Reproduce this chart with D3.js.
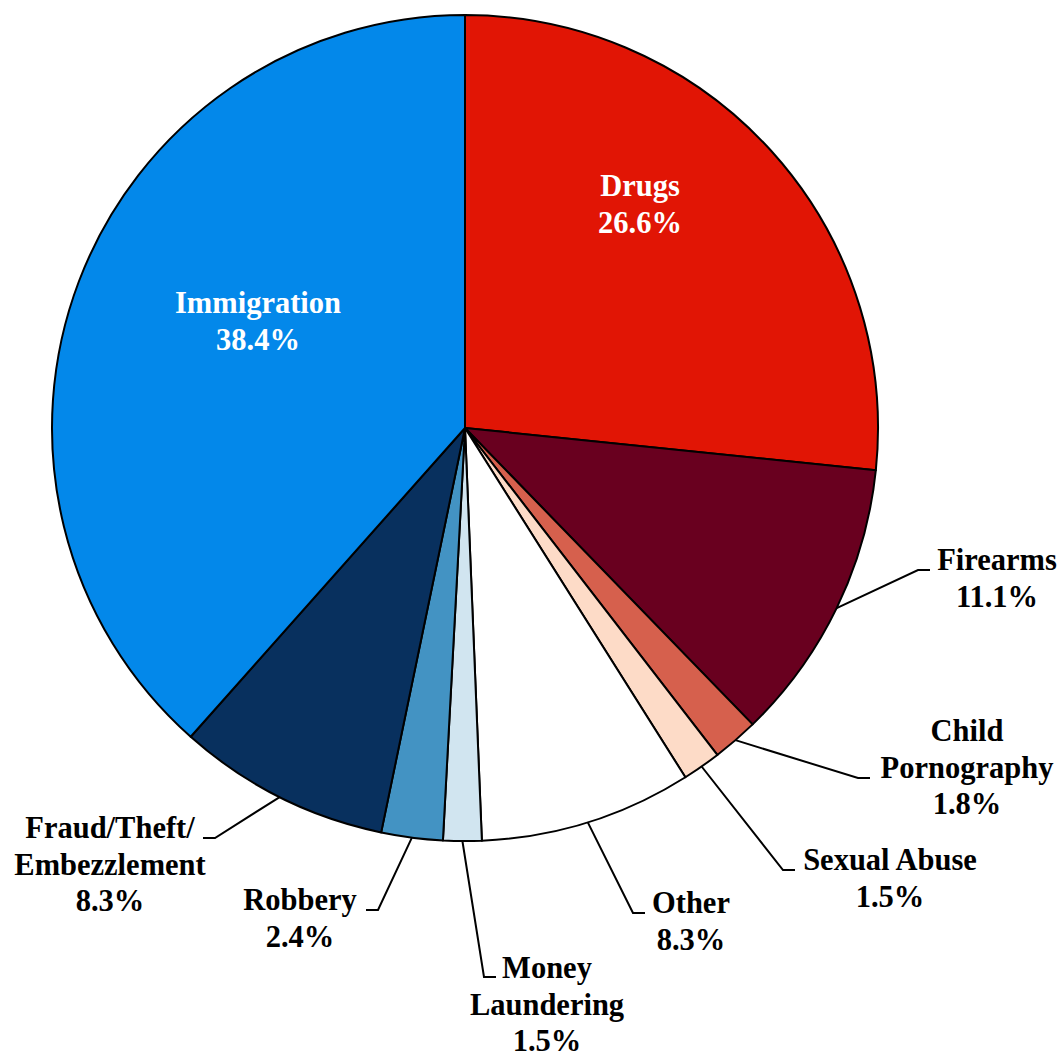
<!DOCTYPE html>
<html><head><meta charset="utf-8">
<script src="https://cdn.jsdelivr.net/npm/d3@7"></script>
<style>html,body{margin:0;padding:0;background:#fff;}svg{display:block;}</style>
</head><body>
<svg id="chart" width="1061" height="1057"></svg>
<script>
const categories = ["Drugs","Firearms","Child Pornography","Sexual Abuse","Other","Money Laundering","Robbery","Fraud/Theft/ Embezzlement","Immigration"];
const values = [26.6, 11.1, 1.8, 1.5, 8.3, 1.5, 2.4, 8.3, 38.4];
const labelLines = [["Drugs"],["Firearms"],["Child","Pornography"],["Sexual Abuse"],["Other"],["Money","Laundering"],["Robbery"],["Fraud/Theft/","Embezzlement"],["Immigration"]];
const colors = ["#E11505","#69001F","#D6604D","#FDDBC7","#FFFFFF","#D1E5F0","#4393C3","#08305E","#0388EA"];

// layout: label text center x, first baseline y, inside flag, leader elbow
const layout = [
  {x:640, y:196, inside:true},
  {x:997, y:570, ex:918, ey:570, hx:930},
  {x:967, y:741, ex:858, ey:778, hx:870},
  {x:890, y:870, ex:783, ey:870, hx:795},
  {x:691, y:913, ex:633, ey:913, hx:645},
  {x:547, y:978, ex:484, ey:977, hx:496},
  {x:300, y:910, ex:378, ey:910, hx:366},
  {x:110, y:838, ex:215, ey:838, hx:203},
  {x:258, y:313, inside:true}
];

const svg = d3.select("#chart");
const cx = 465, cy = 428, R = 413, lh = 36.5;
const g = svg.append("g").attr("transform", `translate(${cx},${cy})`);
const data = categories.map((c,i)=>({name:c, value:values[i], i}));
const pie = d3.pie().value(d=>d.value).sort(null);
const arcs = pie(data);
const arc = d3.arc().innerRadius(0).outerRadius(R);
const edge = d3.arc().innerRadius(R).outerRadius(R);

g.selectAll("path.slice").data(arcs).enter().append("path")
  .attr("class","slice")
  .attr("d", arc)
  .attr("fill", d=>colors[d.data.i])
  .attr("stroke","#000").attr("stroke-width",2).attr("stroke-linejoin","round");

const fmt = v => v.toFixed(1) + "%";

arcs.forEach(a=>{
  const i = a.data.i, L = layout[i];
  if(!L.inside){
    const p = edge.centroid(a);
    const pts = [[cx+p[0], cy+p[1]], [L.ex, L.ey], [L.hx, L.ey]];
    svg.append("path").attr("d", d3.line()(pts)).attr("fill","none")
      .attr("stroke","#000").attr("stroke-width",2);
  }
  const lines = labelLines[i].concat([fmt(values[i])]);
  const t = svg.append("text")
    .attr("text-anchor","middle")
    .attr("font-family","'Liberation Serif','Times New Roman',serif")
    .attr("font-weight","bold").attr("font-size",30.5)
    .attr("fill", L.inside ? "#fff" : "#000");
  lines.forEach((s,k)=>{
    t.append("tspan").attr("x", L.x).attr("y", L.y + k*lh).text(s);
  });
});
</script>
</body></html>
